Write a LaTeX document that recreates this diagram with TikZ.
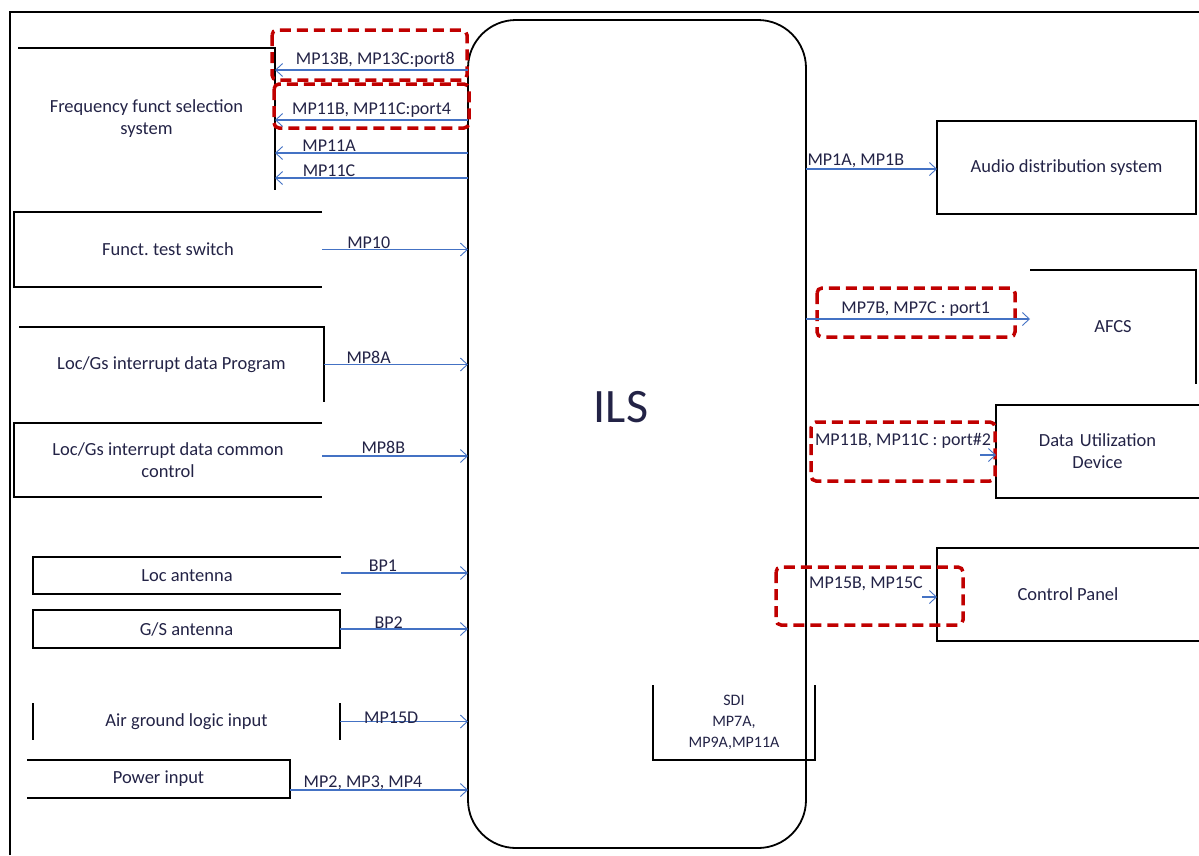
\documentclass[tikz,border=0pt]{standalone}
\usepackage{fontspec}
\setmainfont{Carlito}
\frenchspacing
\usetikzlibrary{arrows.meta}
\definecolor{sigblue}{RGB}{68,114,196}
\definecolor{dred}{RGB}{192,0,0}
\definecolor{txt}{RGB}{35,35,70}
\begin{document}
\begin{tikzpicture}[x=1pt,y=-1pt,
 frame/.style={line width=1.8pt, draw=black},
 box/.style={inner sep=0pt, outer sep=0pt, text=txt, font=\fontsize{18.5}{22}\selectfont, align=center},
 sig/.style={sigblue, line width=1.2pt, -{Straight Barb[length=7pt,width=13pt,line width=0.9pt]}},
 lbl/.style={text=txt, font=\fontsize{18}{21}\selectfont, inner sep=0.5pt},
 redbox/.style={dred, line width=3.5pt, dash pattern=on 11pt off 6pt, rounded corners=5pt},
]
\useasboundingbox (0,0) rectangle (1199,855);
% outer frame
\draw[frame] (10,855) -- (10,12) -- (1199,12);
% ILS
\node[frame, rounded corners=48pt, minimum width=338pt, minimum height=828pt, inner sep=0pt, outer sep=0pt] (ils) at (637,434) {};
\node[text=txt, font=\fontsize{48}{50}\selectfont] (ilst) at (621,407) {ILS};

% left boxes
\node[box, minimum width=257pt, minimum height=142pt] (ffs) at (146.5,119) {Frequency funct selection\\system};
\draw[frame] (ffs.north west) -- (ffs.north east) -- (ffs.south east);

\node[box, minimum width=308pt, minimum height=75pt] (fts) at (168,249.5) {Funct. test switch};
\draw[frame] (fts.north east) -- (fts.north west) -- (fts.south west) -- (fts.south east);

\node[box, minimum width=305pt, minimum height=75pt] (ldp) at (171.5,364.5) {Loc/Gs interrupt data Program};
\draw[frame] (ldp.north west) -- (ldp.north east) -- (ldp.south east);

\node[box, minimum width=308pt, minimum height=74pt] (ldc) at (168,460) {Loc/Gs interrupt data common\\control};
\draw[frame] (ldc.north east) -- (ldc.north west) -- (ldc.south west) -- (ldc.south east);

\node[box, minimum width=308pt, minimum height=37pt] (loc) at (187,575.5) {Loc antenna};
\draw[frame] (loc.north east) -- (loc.north west) -- (loc.south west) -- (loc.south east);

\node[box, frame, minimum width=307pt, minimum height=38pt] (gs) at (186.5,629) {G/S antenna};

\node[box, minimum width=307pt, minimum height=37pt] (agl) at (186.5,721.5) {Air ground logic input};
\draw[frame] (agl.north west) -- (agl.south west);
\draw[frame] (agl.north east) -- (agl.south east);

\node[box, minimum width=263pt, minimum height=38pt] (pwr) at (158.5,779) {Power input};
\draw[frame] (pwr.north west) -- (pwr.north east) -- (pwr.south east) -- (pwr.south west);

% right boxes
\node[box, frame, minimum width=259pt, minimum height=93pt] (aud) at (1066.5,167.5) {Audio distribution system};

\node[box, minimum width=166pt, minimum height=114pt] (afcs) at (1113,327) {AFCS};
\draw[frame] (afcs.north west) -- (afcs.north east) -- (afcs.south east);

\node[box, minimum width=203pt, minimum height=93pt, text width=190pt] (dud) at (1097.5,451.5) {Data Utilization\\Device};
\draw[frame] (dud.north east) -- (dud.north west) -- (dud.south west) -- (dud.south east);

\node[box, minimum width=262pt, minimum height=93pt] (cp) at (1068,594.5) {Control Panel};
\draw[frame] (cp.north east) -- (cp.north west) -- (cp.south west) -- (cp.south east);

\node[box, font=\fontsize{16}{21}\selectfont, minimum width=162pt, minimum height=75pt] (sdi) at (734,722.5) {SDI\\MP7A,\\MP9A,MP11A};
\draw[frame] (sdi.north west) -- (sdi.south west) -- (sdi.south east) -- (sdi.north east);

% red dashed highlight boxes
\draw[redbox] (272,30) rectangle (467,80);
\draw[redbox] (274,84) rectangle (469,128);
\draw[redbox] (817,288) rectangle (1015,337);
\draw[redbox] (811,422) rectangle (995,481);
\draw[redbox] (776,567) rectangle (963,625);

% connectors: ILS -> frequency funct selection system
\draw[sig] (ils.west |- 0,70) -- (ffs.east |- 0,70) node[lbl, above=1.5pt, pos=0.48] {MP13B, MP13C:port8};
\draw[sig] (ils.west |- 0,120) -- (ffs.east |- 0,120) node[lbl, above=1.5pt, pos=0.5] {MP11B, MP11C:port4};
\draw[sig] (ils.west |- 0,153) -- (ffs.east |- 0,153) node[lbl, above, pos=0.72] {MP11A};
\draw[sig] (ils.west |- 0,178) -- (ffs.east |- 0,178) node[lbl, above, pos=0.72] {MP11C};

% left inputs -> ILS
\draw[sig] (fts.east) -- (fts.east -| ils.west) node[lbl, above, pos=0.32] {MP10};
\draw[sig] (ldp.east) -- (ldp.east -| ils.west) node[lbl, above, pos=0.31] {MP8A};
\draw[sig] (ldc.east |- 0,456) -- (ils.west |- 0,456) node[lbl, above=1.5pt, pos=0.42] {MP8B};
\draw[sig] (loc.east |- 0,573) -- (ils.west |- 0,573) node[lbl, above, pos=0.33] {BP1};
\draw[sig] (gs.east) -- (gs.east -| ils.west) node[lbl, above=-1pt, pos=0.38] {BP2};
\draw[sig] (agl.east) -- (agl.east -| ils.west) node[lbl, pos=0.4, yshift=4pt] {MP15D};
\draw[sig] (pwr.east |- 0,790) -- (ils.west |- 0,790) node[lbl, pos=0.41, yshift=7pt] {MP2, MP3, MP4};

% ILS -> right outputs
\draw[sig] (ils.east |- 0,169) -- (aud.west |- 0,169) node[lbl, above, pos=0.38] {MP1A, MP1B};
\draw[sig] (ils.east |- 0,319) -- (afcs.west |- 0,319) node[lbl, above=1.5pt, pos=0.49] {MP7B, MP7C : port1};
\coordinate (dudin) at (980,455);
\draw[sig] (dudin) -- (dud.west |- dudin);
\node[lbl] (dudl) at (903,441) {MP11B, MP11C : port\#2};
\coordinate (cpin) at (922,597);
\draw[sig] (cpin) -- (cp.west |- cpin);
\node[lbl] (cpl) at (866,584) {MP15B, MP15C};
\end{tikzpicture}
\end{document}
